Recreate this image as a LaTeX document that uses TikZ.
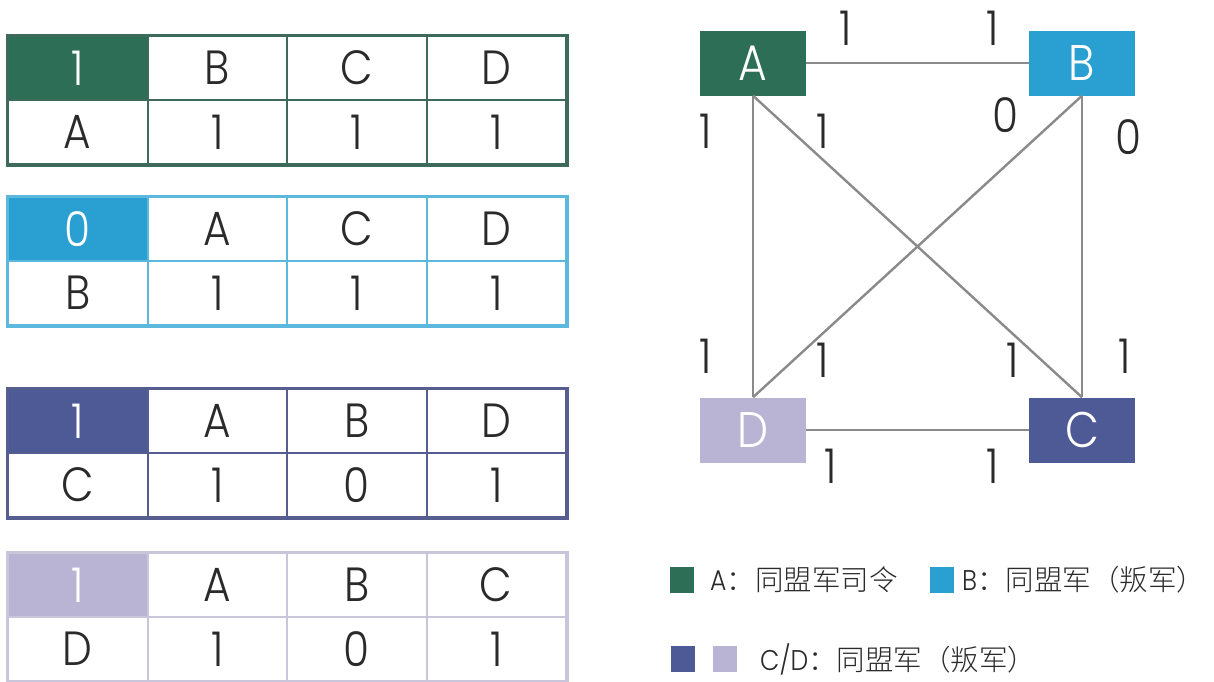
\documentclass[tikz,border=0pt]{standalone}
\usepackage{fontspec}
\setmainfont{Poppins}[UprightFont={* Light},FakeStretch=0.88]
\newfontfamily\cjk{Noto Sans CJK SC}[UprightFont={* Light}]
\definecolor{cA}{HTML}{2D6E56}
\definecolor{bA}{HTML}{3E6A5C}
\definecolor{cB}{HTML}{2AA0D2}
\definecolor{bB}{HTML}{5CB9DD}
\definecolor{cC}{HTML}{4E5A96}
\definecolor{bC}{HTML}{555E8E}
\definecolor{cD}{HTML}{B9B4D4}
\definecolor{bD}{HTML}{C9C6DC}
\definecolor{edgegray}{HTML}{8A8A8A}
\definecolor{ink}{HTML}{2A2A2A}
\tikzset{
  cell/.style={rectangle,anchor=north west,minimum width=139.5pt,minimum height=64pt,inner sep=0pt,
    font=\fontsize{48}{48}\selectfont,text=ink,line width=2pt},
  gbox/.style={rectangle,minimum width=106pt,minimum height=65pt,inner sep=0pt,text=white,
    font=\fontsize{50}{50}\selectfont},
  edge/.style={draw=edgegray,line width=2.4pt},
  elab/.style={inner sep=0pt,text=ink,font=\fontsize{48}{48}\selectfont},
  sq/.style={rectangle,minimum width=24pt,minimum height=26pt,inner sep=0pt},
  legtext/.style={anchor=west,inner sep=0pt,text=ink,font=\fontsize{28.5}{30}\selectfont}
}
\begin{document}
\begin{tikzpicture}[x=1pt,y=-1pt]
\useasboundingbox (0,0) rectangle (1214,681);
\fill[white] (0,0) rectangle (1214,681);
% tables
\foreach \t/\y/\fc/\bc/\h/\ha/\hb/\hc/\r/\va/\vb/\vc in
  {1/35/cA/bA/1/B/C/D/A/1/1/1,
   2/196/cB/bB/0/A/C/D/B/1/1/1,
   3/388/cC/bC/1/A/B/D/C/1/0/1,
   4/552/cD/bD/1/A/B/C/D/1/0/1}{
  \node[cell,fill=\fc,text=white,draw=\bc] (t\t h0) at (7,\y) {\h};
  \node[cell,draw=\bc] (t\t h1) at (146.5,\y) {\ha};
  \node[cell,draw=\bc] (t\t h2) at (286,\y) {\hb};
  \node[cell,draw=\bc] (t\t h3) at (425.5,\y) {\hc};
  \node[cell,draw=\bc] (t\t r0) at (7,\y+64) {\r};
  \node[cell,draw=\bc] (t\t r1) at (146.5,\y+64) {\va};
  \node[cell,draw=\bc] (t\t r2) at (286,\y+64) {\vb};
  \node[cell,draw=\bc] (t\t r3) at (425.5,\y+64) {\vc};
  \draw[\bc,line width=3pt] (t\t h0.north west) rectangle (t\t r3.south east);
}
% graph
\node[gbox,fill=cA] (A) at (753,63) {A};
\node[gbox,fill=cB] (B) at (1082,63) {B};
\node[gbox,fill=cC] (C) at (1082,430) {C};
\node[gbox,fill=cD] (D) at (753,430) {D};
\draw[edge] (A) -- (B);
\draw[edge] (D) -- (C);
\draw[edge] (A.south) -- (D.north);
\draw[edge] (B.south) -- (C.north);
\draw[edge] (A.south) -- (C.north);
\draw[edge] (B.south) -- (D.north);
\node[elab] (l1) at (846,28) {1};
\node[elab] (l2) at (993,28) {1};
\node[elab] (l3) at (706,131) {1};
\node[elab] (l4) at (823,131) {1};
\node[elab] (l5) at (1005,115) {0};
\node[elab] (l6) at (1128,137) {0};
\node[elab] (l7) at (706,356) {1};
\node[elab] (l8) at (823,360) {1};
\node[elab] (l9) at (1013,360) {1};
\node[elab] (l10) at (1125,356) {1};
\node[elab] (l11) at (831,466) {1};
\node[elab] (l12) at (993,466) {1};
% legend
\node[sq,fill=cA] (kA) at (682,580) {};
\node[legtext] (tA) at (710,580) {A{\cjk ：同盟军司令}};
\node[sq,fill=cB] (kB) at (942,580) {};
\node[legtext] (tB) at (962,580) {B{\cjk ：同盟军（叛军）}};
\node[sq,fill=cC] (kC) at (683,659) {};
\node[sq,fill=cD] (kD) at (725,659) {};
\node[legtext] (tC) at (760,659) {C/D{\cjk ：同盟军（叛军）}};
\end{tikzpicture}
\end{document}
